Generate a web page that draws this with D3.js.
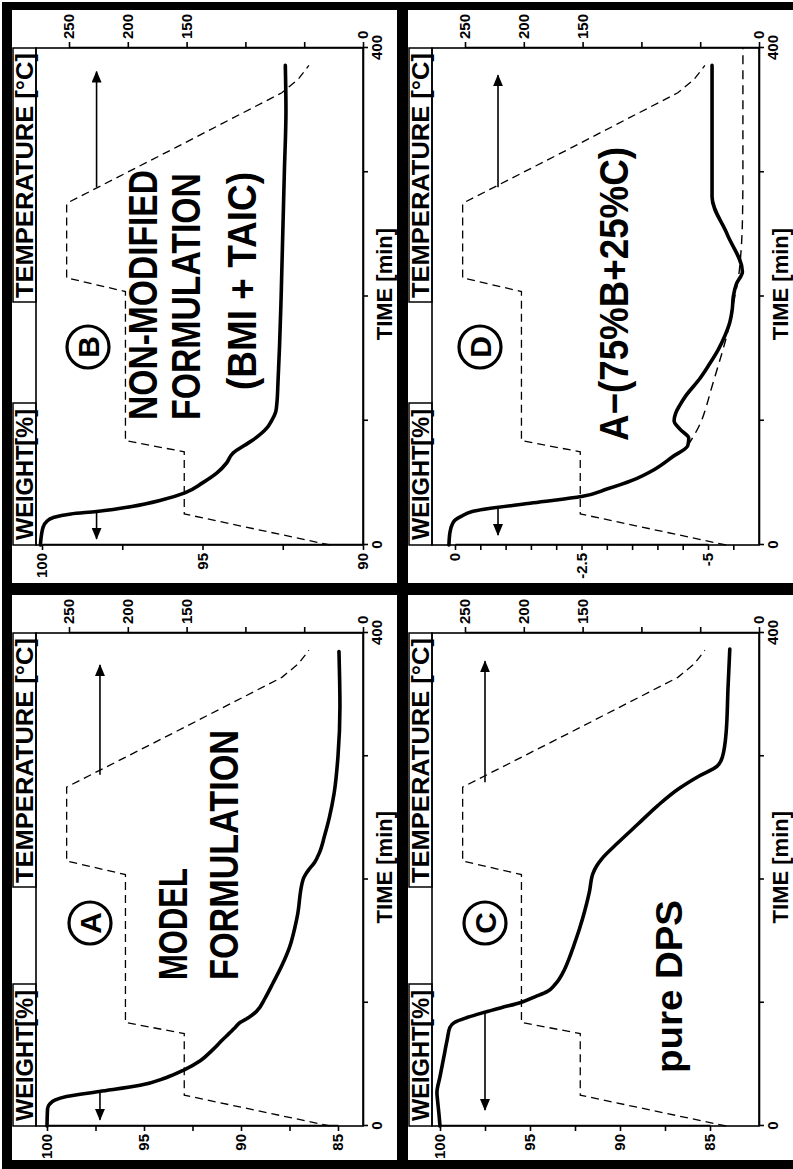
<!DOCTYPE html>
<html>
<head>
<meta charset="utf-8">
<script src="https://cdn.jsdelivr.net/npm/d3@7"></script>
<style>
  body { margin: 0; background: #fff; }
  svg { display: block; }
  text { font-family: "Liberation Sans", Arial, Helvetica, sans-serif; font-weight: bold; fill: #000; }
</style>
</head>
<body>
<svg id="fig" width="793" height="1169"></svg>
<script>
// oven temperature program, same run for every sample
const tempTime = [0, 25, 75, 84, 204, 215, 275, 320, 364, 375, 386];
const tempVal  = [28, 152, 152, 202, 202, 252, 252, 159, 69, 55, 46];

// A: model formulation, weight %
const timeA   = [0, 14, 18, 21, 24, 28, 33, 39, 45, 53, 62, 70, 76, 80, 84, 88, 93, 104, 116, 130, 145, 170, 200, 207, 214, 222, 235, 250, 270, 300, 340, 385];
const weightA = [100, 99.97, 99.85, 99.6, 99.0, 97.3, 95.2, 93.9, 93.0, 92.1, 91.45, 90.95, 90.55, 90.3, 90.05, 89.6, 89.2, 88.75, 88.35, 87.9, 87.5, 87.1, 86.8, 86.55, 86.2, 85.95, 85.7, 85.45, 85.2, 85.0, 84.9, 84.95];

// B: non-modified formulation (BMI + TAIC)
const timeB   = [0, 14, 19, 22, 25, 27, 31, 36, 42, 50, 58, 66, 74, 80, 86, 94, 100, 107, 115, 130, 160, 200, 250, 300, 350, 386];
const weightB = [100.05, 99.97, 99.85, 99.66, 99.1, 98.3, 97.2, 96.3, 95.55, 95.0, 94.55, 94.25, 94.05, 93.7, 93.35, 93.0, 92.85, 92.72, 92.68, 92.65, 92.6, 92.55, 92.5, 92.45, 92.4, 92.42];

// C: pure DPS
const timeC   = [0, 10, 20, 27, 40, 55, 70, 80, 84, 88, 92, 96, 100, 105, 109, 115, 125, 135, 145, 160, 175, 190, 205, 211, 217, 230, 245, 260, 274, 284, 292, 300, 320, 355, 387];
const weightC = [100, 100.06, 100.13, 100.17, 100.0, 99.8, 99.6, 99.45, 99.2, 98.5, 97.6, 96.6, 95.55, 94.7, 94.05, 93.6, 93.15, 92.85, 92.6, 92.25, 91.95, 91.7, 91.5, 91.3, 91.0, 90.1, 89.0, 87.9, 86.7, 85.6, 84.6, 84.3, 84.1, 84.0, 83.9];

// D: difference A-(75%B+25%C), solid, and its dashed baseline
const timeD   = [0, 10, 17, 20, 23, 27, 34, 39, 45, 52, 61, 71, 80, 86, 93, 100, 106, 113, 120, 134, 145, 157, 168, 179, 190, 200, 210, 220, 250, 280, 320, 386];
const weightD = [0.12, 0.1, 0.05, 0, -0.12, -0.34, -1.55, -2.5, -3.0, -3.5, -3.95, -4.3, -4.6, -4.62, -4.45, -4.33, -4.36, -4.45, -4.56, -4.84, -5.02, -5.2, -5.33, -5.43, -5.48, -5.5, -5.56, -5.68, -5.38, -5.08, -5.08, -5.08];
const timeDbase   = [80, 90, 100, 112, 125, 140, 155, 170, 185, 200, 215, 235, 260, 300, 350, 400];
const weightDbase = [-4.6, -4.75, -4.87, -4.97, -5.06, -5.17, -5.28, -5.38, -5.46, -5.53, -5.6, -5.65, -5.68, -5.69, -5.69, -5.69];

// ticks
const timeTicks  = [0, 100, 200, 300, 400];
const timeLabels = [0, 400];
const tempTicks  = [0, 50, 100, 150, 200, 250];
const tempLabels = [0, 150, 200, 250];
const wTicks85   = [100, 97.5, 95, 92.5, 90, 87.5, 85];
const wLabels85  = [100, 95, 90, 85];
const wTicks90   = [100, 97.5, 95, 92.5, 90];
const wLabels90  = [100, 95, 90];
const wTicksD    = [0, -0.5, -1, -1.5, -2, -2.5, -3, -3.5, -4, -4.5, -5, -5.5];
const wLabelsD   = [0, -2.5, -5];

// arrows: [weight level, time from, time to]
const arrowsA = [[97.27, 28, 5], [97.27, 285, 374]];
const arrowsB = [[98.3, 27, 5], [98.3, 288, 381]];
const arrowsC = [[97.5, 92, 13], [97.5, 279, 377]];
const arrowsD = [[-0.85, 30, 8], [-0.85, 288, 378]];

const svg = d3.select('#fig');
const H = 327;          // plot depth (weight direction), px
const TEMP_SPAN = 294;  // px for 0..250 degC

svg.append('defs').append('marker')
  .attr('id', 'head').attr('viewBox', '0 0 12 10')
  .attr('refX', 11).attr('refY', 5)
  .attr('markerWidth', 12).attr('markerHeight', 10)
  .attr('markerUnits', 'userSpaceOnUse').attr('orient', 'auto')
  .append('path').attr('d', 'M0,0 L12,5 L0,10 Z').attr('fill', '#000');

const panels = [
  { letter: 'A', ox: 36, oy: 1126, W: 493, wDom: [100, 85], wRng: [11, 302], wTicks: wTicks85, wLabels: wLabels85,
    t: timeA, w: weightA, arrows: arrowsA, circle: [203, 54],
    lines: [{ s: 'MODEL', u: 146, v: 151, len: 112 }, { s: 'FORMULATION', u: 146, v: 202, len: 250 }] },
  { letter: 'B', ox: 36, oy: 545, W: 497, wDom: [100, 90], wRng: [6, 327], wTicks: wTicks90, wLabels: wLabels90,
    t: timeB, w: weightB, arrows: arrowsB, circle: [198, 52],
    lines: [{ s: 'NON-MODIFIED', u: 125, v: 121, len: 250 }, { s: 'FORMULATION', u: 125, v: 164, len: 247 },
            { s: '(BMI + TAIC)', u: 155, v: 220, len: 218 }] },
  { letter: 'C', ox: 432, oy: 1126, W: 493, wDom: [100, 85], wRng: [8, 278], wTicks: wTicks85, wLabels: wLabels85,
    t: timeC, w: weightC, arrows: arrowsC, circle: [203, 53],
    lines: [{ s: 'pure DPS', u: 53, v: 250, len: 173, size: 36 }] },
  { letter: 'D', ox: 432, oy: 545, W: 497, wDom: [0, -5], wRng: [23, 276], wTicks: wTicksD, wLabels: wLabelsD,
    t: timeD, w: weightD, arrows: arrowsD, circle: [198, 48], base: true,
    lines: [{ s: 'A\u2212(75%B+25%C)', u: 104, v: 196, len: 294 }] }
];

function styleAxis(a) {
  a.attr('font-size', 15);
  a.selectAll('.domain').attr('stroke-width', 1.6);
  a.selectAll('.tick line').attr('stroke-width', 1.6);
}

function drawPanel(p) {
  // drawn in the original landscape frame, then turned a quarter turn
  const g = svg.append('g').attr('transform', `translate(${p.ox},${p.oy}) rotate(-90)`);
  const x = d3.scaleLinear().domain([0, 400]).range([0, p.W]);
  const y = d3.scaleLinear().domain(p.wDom).range(p.wRng);
  const yT = d3.scaleLinear().domain([0, 250]).range([H, H - TEMP_SPAN]);

  // boxed axis titles
  g.append('rect').attr('x', 0).attr('y', -23).attr('width', 142).attr('height', 23)
    .attr('fill', 'none').attr('stroke', '#000').attr('stroke-width', 1.5);
  g.append('text').attr('x', 5).attr('y', -3.5).attr('font-size', 24)
    .attr('textLength', 131).attr('lengthAdjust', 'spacingAndGlyphs').text('WEIGHT[%]');
  g.append('rect').attr('x', p.W - 254).attr('y', -23).attr('width', 254).attr('height', 23)
    .attr('fill', 'none').attr('stroke', '#000').attr('stroke-width', 1.5);
  g.append('text').attr('x', p.W - 250).attr('y', -3.5).attr('font-size', 24)
    .attr('textLength', 245).attr('lengthAdjust', 'spacingAndGlyphs').text('TEMPERATURE [°C]');

  g.append('rect').attr('width', p.W).attr('height', H)
    .attr('fill', 'none').attr('stroke', '#000').attr('stroke-width', 1.6);

  g.append('g').attr('transform', `translate(0,${H})`)
    .call(d3.axisBottom(x).tickValues(timeTicks).tickSize(5).tickSizeOuter(0).tickPadding(3)
      .tickFormat(d => timeLabels.includes(d) ? d : ''))
    .call(styleAxis);
  g.append('g')
    .call(d3.axisLeft(y).tickValues(p.wTicks).tickSize(5).tickSizeOuter(0).tickPadding(3)
      .tickFormat(d => p.wLabels.includes(d) ? String(d) : ''))
    .call(styleAxis);
  g.append('g').attr('transform', `translate(${p.W},0)`)
    .call(d3.axisRight(yT).tickValues(tempTicks).tickSize(6).tickSizeOuter(0).tickPadding(3)
      .tickFormat(d => tempLabels.includes(d) ? d : ''))
    .call(styleAxis);

  g.append('text').attr('x', x(210)).attr('y', H + 29).attr('font-size', 22)
    .attr('text-anchor', 'middle').text('TIME [min]');

  // temperature program
  const temp = tempTime.map((t, i) => ({ t, v: tempVal[i] }));
  g.append('path').datum(temp)
    .attr('d', d3.line().x(d => x(d.t)).y(d => yT(d.v)))
    .attr('fill', 'none').attr('stroke', '#000').attr('stroke-width', 1.3).attr('stroke-dasharray', '8,5');

  if (p.base) {
    const base = timeDbase.map((t, i) => ({ t, v: weightDbase[i] }));
    g.append('path').datum(base)
      .attr('d', d3.line().x(d => x(d.t)).y(d => y(d.v)).curve(d3.curveMonotoneX))
      .attr('fill', 'none').attr('stroke', '#000').attr('stroke-width', 1.4).attr('stroke-dasharray', '9,6');
  }

  const wt = p.t.map((t, i) => ({ t, v: p.w[i] }));
  g.append('path').datum(wt)
    .attr('d', d3.line().x(d => x(d.t)).y(d => y(d.v)).curve(d3.curveMonotoneX))
    .attr('fill', 'none').attr('stroke', '#000').attr('stroke-width', 3.6)
    .attr('stroke-linejoin', 'round').attr('stroke-linecap', 'round');

  p.arrows.forEach(([lvl, t0, t1]) => {
    g.append('line').attr('x1', x(t0)).attr('x2', x(t1)).attr('y1', y(lvl)).attr('y2', y(lvl))
      .attr('stroke', '#000').attr('stroke-width', 1.6).attr('marker-end', 'url(#head)');
  });

  // circled panel letter
  const [cu, cv] = p.circle;
  g.append('circle').attr('cx', cu).attr('cy', cv).attr('r', 21)
    .attr('fill', 'none').attr('stroke', '#000').attr('stroke-width', 3.2);
  g.append('text').attr('x', cu).attr('y', cv + 11).attr('font-size', 30)
    .attr('text-anchor', 'middle').text(p.letter);

  p.lines.forEach(l => {
    g.append('text').attr('x', l.u).attr('y', l.v).attr('font-size', l.size || 40)
      .attr('textLength', l.len).attr('lengthAdjust', 'spacingAndGlyphs').text(l.s);
  });
}

panels.forEach(drawPanel);

// heavy black frame around and between the four panels
const frame = svg.append('g').attr('fill', '#000');
frame.append('rect').attr('x', 2).attr('y', 2).attr('width', 10).attr('height', 1165);
frame.append('rect').attr('x', 2).attr('y', 2).attr('width', 800).attr('height', 8);
frame.append('rect').attr('x', 2).attr('y', 1160).attr('width', 800).attr('height', 9);
frame.append('rect').attr('x', 397).attr('y', 2).attr('width', 11).attr('height', 1165);
frame.append('rect').attr('x', 2).attr('y', 583).attr('width', 800).attr('height', 12);
</script>
</body>
</html>
